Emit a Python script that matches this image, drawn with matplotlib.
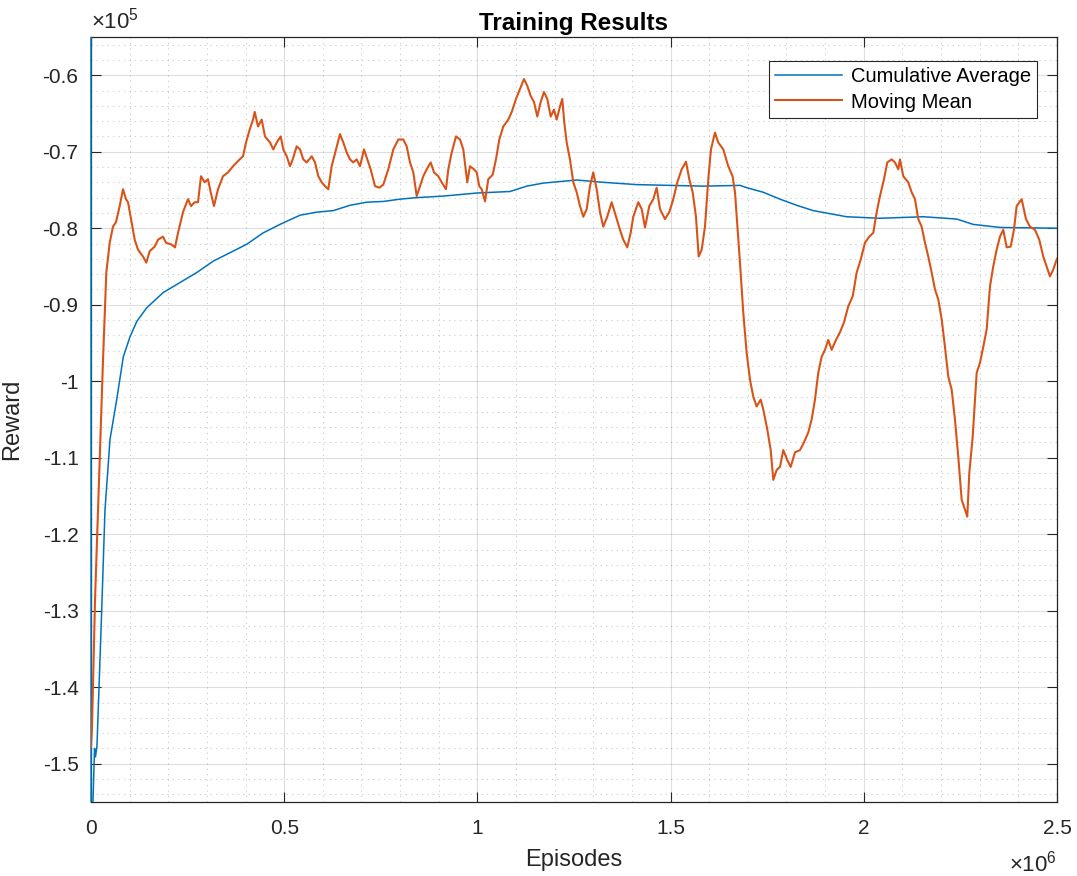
import matplotlib
matplotlib.use("Agg")
import matplotlib.pyplot as plt
from matplotlib.patches import Rectangle
from matplotlib.ticker import FixedLocator, FixedFormatter, MultipleLocator

# episodes in thousands, rewards in thousands
moving_ep = [0, 2.6, 10.4, 31.1, 39.6, 48.4, 56.9, 64.7, 74.3, 82.8, 90.6, 95.8, 103.5, 113.1,
             121.6, 134.6, 143.1, 151.9, 164.9, 173.4, 186.3, 194.1, 207.0, 217.4, 225.2, 238.1,
             251.0, 258.8, 268.4, 276.9, 284.7, 294.3, 302.8, 309.8, 318.3, 328.7, 341.6, 354.6,
             367.5, 384.8, 393.4, 401.1, 410.7, 419.3, 423.7, 432.2, 441.8, 450.3, 463.3, 471.8,
             480.6, 490.9, 497.7, 506.5, 515.0, 522.0, 532.3, 540.9, 549.4, 558.2, 571.2, 579.7,
             588.3, 597.1, 605.6, 614.1, 622.9, 634.1, 644.4, 653.0, 661.8, 670.3, 678.8, 687.6,
             696.2, 706.5, 715.1, 723.8, 735.0, 746.1, 756.5, 769.4, 782.4, 795.3, 808.2, 817.0,
             825.6, 834.1, 842.9, 851.5, 860.0, 868.8, 879.2, 887.7, 898.8, 907.6, 918.7, 924.7,
             933.5, 944.6, 955.0, 963.5, 973.8, 980.8, 991.2, 998.2, 1004.9, 1011.1, 1019.7,
             1028.2, 1039.6, 1048.1, 1056.7, 1067.0, 1080.0, 1088.8, 1099.9, 1110.3, 1120.6,
             1129.2, 1137.9, 1146.5, 1155.0, 1163.8, 1172.3, 1180.9, 1189.7, 1198.2, 1205.2,
             1213.7, 1219.7, 1224.9, 1231.1, 1239.6, 1248.2, 1257.0, 1265.5, 1274.1, 1282.9,
             1291.4, 1299.9, 1308.7, 1317.3, 1325.8, 1336.1, 1347.5, 1358.7, 1369.0, 1377.6,
             1387.9, 1396.7, 1403.5, 1416.4, 1425.2, 1433.8, 1444.9, 1455.2, 1464.0, 1472.6,
             1485.5, 1496.6, 1507.0, 1517.3, 1528.7, 1539.9, 1548.4, 1557.2, 1565.7, 1572.7,
             1580.5, 1589.0, 1597.6, 1604.5, 1614.9, 1623.4, 1636.4, 1649.3, 1660.5, 1666.7,
             1673.6, 1679.6, 1688.1, 1696.9, 1705.5, 1714.0, 1722.8, 1733.2, 1739.9, 1750.3,
             1759.1, 1765.8, 1774.6, 1783.1, 1791.7, 1802.0, 1810.8, 1821.9, 1834.9, 1845.2,
             1856.3, 1865.1, 1873.7, 1882.2, 1891.0, 1899.6, 1908.1, 1916.9, 1928.0, 1938.4,
             1948.8, 1959.9, 1971.3, 1981.6, 1992.0, 2003.1, 2014.2, 2024.6, 2033.4, 2041.9,
             2052.3, 2060.8, 2072.2, 2080.7, 2089.3, 2093.7, 2102.2, 2115.1, 2123.9, 2132.5,
             2141.0, 2149.8, 2158.4, 2166.9, 2175.7, 2184.3, 2192.8, 2201.6, 2210.1, 2218.7,
             2227.5, 2236.0, 2244.6, 2253.4, 2261.9, 2267.9, 2273.1, 2281.8, 2292.2, 2300.7,
             2309.3, 2318.1, 2326.6, 2335.1, 2343.9, 2352.5, 2361.0, 2369.8, 2380.2, 2388.7,
             2395.7, 2408.6, 2419.8, 2430.1, 2443.1, 2454.2, 2464.5, 2473.3, 2481.9, 2490.4,
             2500.0]
moving_rw = [-147.8, -145.2, -128.6, -97.2, -85.8, -81.9, -79.8, -79.2, -77.1, -74.9, -76.2, -76.6,
             -78.8, -81.5, -82.8, -83.7, -84.5, -83.0, -82.4, -81.5, -81.1, -81.9, -82.1, -82.5,
             -80.6, -77.9, -76.2, -77.1, -76.6, -76.6, -73.2, -74.0, -73.6, -75.3, -77.1, -74.9,
             -73.2, -72.7, -71.9, -71.0, -70.6, -68.8, -67.1, -65.8, -64.8, -66.7, -65.8, -68.0,
             -68.8, -69.7, -68.8, -68.0, -69.7, -70.6, -71.9, -71.0, -69.3, -69.7, -71.0, -71.4,
             -70.6, -71.4, -73.2, -74.0, -74.5, -74.9, -71.9, -69.7, -67.7, -68.8, -70.1, -71.0,
             -71.4, -71.0, -71.9, -69.7, -71.0, -72.3, -74.5, -74.7, -74.3, -72.3, -69.7, -68.4,
             -68.4, -69.3, -71.4, -72.7, -75.8, -74.5, -73.2, -72.3, -71.4, -72.7, -73.2, -74.0,
             -74.9, -72.3, -70.1, -68.0, -68.4, -69.7, -74.0, -71.9, -72.3, -72.7, -74.5, -74.9,
             -76.5, -73.6, -73.0, -71.0, -68.4, -66.7, -65.8, -64.8, -63.1, -61.8, -60.5, -61.4,
             -62.7, -63.5, -65.4, -63.5, -62.2, -63.1, -65.4, -64.5, -65.8, -64.1, -63.1, -66.2,
             -68.8, -71.0, -74.0, -75.3, -77.1, -78.5, -77.5, -74.5, -72.7, -74.9, -77.9, -79.8,
             -78.5, -76.6, -78.5, -80.2, -81.5, -82.5, -80.6, -78.5, -76.6, -77.5, -79.9, -77.1,
             -76.2, -74.7, -77.5, -78.8, -77.9, -76.2, -74.0, -72.3, -71.3, -73.6, -75.3, -78.5,
             -83.7, -82.8, -79.8, -73.6, -69.7, -67.5, -68.8, -69.7, -71.9, -73.2, -75.3, -80.2,
             -84.5, -91.0, -96.3, -99.8, -102.0, -103.3, -102.4, -103.7, -106.3, -109.0, -112.9,
             -111.6, -111.2, -109.0, -110.3, -111.2, -109.3, -109.0, -108.0, -106.7, -105.0,
             -102.4, -98.9, -96.8, -95.9, -94.6, -95.9, -94.6, -93.6, -92.3, -90.2, -88.9, -85.8,
             -84.1, -81.9, -81.1, -80.6, -77.9, -75.8, -73.6, -71.4, -71.0, -71.4, -72.3, -71.0,
             -73.2, -74.0, -75.3, -76.2, -78.8, -79.8, -81.9, -83.7, -85.8, -88.0, -89.3, -91.9,
             -95.5, -99.4, -101.1, -105.0, -109.9, -115.5, -116.8, -117.7, -112.0, -107.3, -98.9,
             -97.6, -95.5, -93.2, -87.6, -85.0, -82.8, -81.1, -80.2, -82.5, -82.4, -80.2, -77.1,
             -76.2, -78.8, -79.8, -80.2, -81.5, -83.7, -85.0, -86.3, -85.4, -84.0]

cum_ep = [0, 0.3, 5.2, 9.1, 11.6, 15.5, 27.7, 36.2, 49.2, 66.5, 83.6, 100.9, 118.3, 144.2, 187.1,
          230.3, 273.5, 316.5, 359.7, 402.9, 445.9, 489.1, 540.9, 584.1, 627.1, 670.3, 713.5,
          756.5, 799.7, 842.9, 911.8, 998.2, 1084.4, 1127.6, 1170.6, 1213.7, 1257.0, 1325.8,
          1412.3, 1498.4, 1584.6, 1679.6, 1696.9, 1739.9, 1783.1, 1826.3, 1869.3, 1912.5,
          1955.7, 2041.9, 2153.9, 2240.4, 2283.2, 2352.5, 2500.0]
cum_rw = [-40.0, -161.3, -154.8, -148.0, -149.1, -147.6, -129.9, -116.8, -107.6, -102.4, -96.8,
          -94.2, -92.2, -90.4, -88.4, -87.1, -85.8, -84.3, -83.2, -82.1, -80.6, -79.5, -78.3,
          -77.9, -77.7, -77.0, -76.6, -76.5, -76.2, -76.0, -75.8, -75.4, -75.2, -74.5, -74.1,
          -73.9, -73.7, -74.0, -74.3, -74.4, -74.5, -74.4, -74.7, -75.3, -76.2, -77.0, -77.7,
          -78.1, -78.5, -78.7, -78.5, -78.8, -79.5, -79.9, -80.0]

x_ticks = [0, 0.5, 1, 1.5, 2, 2.5]
x_ticklabels = ['0', '0.5', '1', '1.5', '2', '2.5']
y_ticks = [-1.5, -1.4, -1.3, -1.2, -1.1, -1.0, -0.9, -0.8, -0.7, -0.6]
y_ticklabels = ['-1.5', '-1.4', '-1.3', '-1.2', '-1.1', '-1', '-0.9', '-0.8', '-0.7', '-0.6']

plt.rcParams['font.family'] = ['Liberation Sans', 'DejaVu Sans']
plt.rcParams['mathtext.fontset'] = 'custom'
plt.rcParams['mathtext.rm'] = 'Liberation Sans'
plt.rcParams['mathtext.it'] = 'Liberation Sans'

DARK = '#262626'

fig = plt.figure(figsize=(10.77, 8.76), dpi=100)
ax = fig.add_axes([0.0845, 0.0845, 0.8969, 0.8733])

# scale to the x10^6 / x10^5 axis units
blue, = ax.plot([e / 1000 for e in cum_ep], [r / 100 for r in cum_rw],
                color='#0072BD', lw=1.1, label='Cumulative Average', zorder=3)
ax.plot([e / 1000 for e in moving_ep], [r / 100 for r in moving_rw],
        color='#D95319', lw=1.5, label='Moving Mean', zorder=3)

# let the first (vertical) segment sit on top of the left axis line, as matlab does
clip = Rectangle((-0.002, 0), 1.002, 1, transform=ax.transAxes, facecolor='none')
blue.set_clip_path(clip)

ax.set_xlim(0, 2.5)
ax.set_ylim(-1.55, -0.55)
ax.xaxis.set_major_locator(FixedLocator(x_ticks))
ax.xaxis.set_major_formatter(FixedFormatter(x_ticklabels))
ax.yaxis.set_major_locator(FixedLocator(y_ticks))
ax.yaxis.set_major_formatter(FixedFormatter(y_ticklabels))
ax.xaxis.set_minor_locator(MultipleLocator(0.1))
ax.yaxis.set_minor_locator(MultipleLocator(0.02))

ax.set_axisbelow(True)
ax.grid(which='major', color=DARK, alpha=0.15, lw=0.8)
ax.grid(which='minor', color=DARK, alpha=0.28, lw=0.6, linestyle=(0, (1.5, 5)))

ax.tick_params(which='major', direction='in', length=7, width=0.8, colors=DARK,
               labelsize=15, top=True, right=True)
ax.tick_params(axis='x', pad=12)
ax.tick_params(axis='y', pad=9)
ax.tick_params(which='minor', length=0)
for sp in ax.spines.values():
    sp.set_color(DARK)
    sp.set_linewidth(0.9)

ax.set_title('Training Results', fontsize=17.5, fontweight='bold', color='black', pad=5)
ax.set_xlabel('Episodes', fontsize=17, color=DARK, labelpad=8)
ax.set_ylabel('Reward', fontsize=17, color=DARK, labelpad=14)

ax.text(0, 1.004, r'$\times10^5$', transform=ax.transAxes, ha='left', va='bottom',
        fontsize=16, color=DARK)
ax.text(1.0, -0.063, r'$\times10^6$', transform=ax.transAxes, ha='right', va='top',
        fontsize=16, color=DARK)

leg = ax.legend(loc='upper right', bbox_to_anchor=(0.9795, 0.968), fontsize=14.5,
                fancybox=False, framealpha=1, edgecolor=DARK, borderpad=0.3,
                handlelength=3.3, handletextpad=0.45, labelspacing=0.3, borderaxespad=0)
leg.get_frame().set_linewidth(0.8)

fig.savefig('out.png', dpi=100)
